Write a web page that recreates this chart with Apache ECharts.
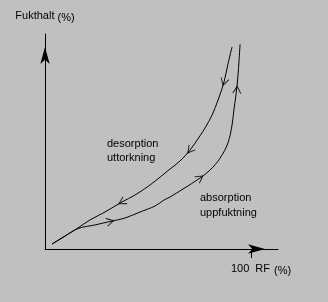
<!DOCTYPE html>
<html>
<head>
<meta charset="utf-8">
<script src="https://cdn.jsdelivr.net/npm/echarts@6/dist/echarts.min.js"></script>
<style>
html,body{margin:0;padding:0;background:#c0c0c0;}
#chart{width:328px;height:302px;}
</style>
</head>
<body>
<div id="chart"></div>
<script>
// Desorption (drying) curve: from wet end down to origin  [RF %, moisture]
var desorptionX = [90.8, 88.8, 86.9, 84.0, 81.1, 77.7, 75.2, 70.4, 65.5, 60.7, 51.0, 43.7, 37.4, 29.1, 21.8, 16.0, 9.7, 3.4];
var desorptionY = [94.0, 86.0, 77.7, 69.3, 62.3, 56.3, 52.6, 46.0, 40.9, 37.2, 29.8, 25.1, 21.9, 17.2, 13.5, 9.8, 6.0, 2.3];
// Absorption (wetting) curve: from origin up to wet end
var absorptionX = [3.4, 9.7, 16.0, 24.3, 31.6, 38.8, 46.1, 53.4, 57.8, 60.7, 67.0, 75.2, 80.1, 85.0, 88.8, 90.8, 91.7, 92.7, 93.7, 94.2, 94.7];
var absorptionY = [2.3, 6.0, 9.5, 11.2, 12.8, 14.4, 17.2, 20.0, 22.8, 24.2, 27.9, 33.0, 36.7, 42.3, 49.3, 57.7, 64.7, 71.6, 80.9, 87.9, 95.3];
// Direction arrows on the curves
var arrowX = [86.9, 70.4, 37.4, 31.6, 75.2, 93.2];
var arrowY = [77.7, 46.0, 21.9, 12.8, 33.0, 74.0];
var arrowAngle = [-15, -39, -60, 103, 125, 176];
// Axis tick labels
var xTickValues = [100];
var xTickLabels = ['100'];
var xAxisUnit = ['RF', '(%)'];
var yAxisTitle = 'Fukthalt';
var yAxisUnit = '(%)';
var curveTexts = [['desorption', 'uttorkning'], ['absorption', 'uppfuktning']];

function zip(a, b) { return a.map(function (v, i) { return [v, b[i]]; }); }

var font = 'Liberation Sans, Arial, sans-serif';
var chart = echarts.init(document.getElementById('chart'));
var axisLineCommon = {
  show: true,
  lineStyle: { color: '#000', width: 1 },
  symbol: ['none', 'arrow'],
  symbolSize: [7, 17],
  symbolOffset: [0, -13]
};
chart.setOption({
  backgroundColor: '#c0c0c0',
  animation: false,
  grid: { left: 45, top: 34, right: 50, bottom: 53 },
  xAxis: {
    type: 'value', min: 0, max: 113.1,
    axisLine: axisLineCommon,
    splitLine: { show: false },
    axisTick: { show: true, customValues: xTickValues, length: 9, lineStyle: { color: '#000', width: 1 } },
    axisLabel: {
      show: true, customValues: xTickValues, margin: 13,
      formatter: function (v) { return '{a|' + xTickLabels[xTickValues.indexOf(v)] + '} {b|' + xAxisUnit[0] + '} {c|' + xAxisUnit[1] + '}'; },
      padding: [0, 0, 0, 20],
      color: '#000', fontFamily: font, fontSize: 11,
      rich: {
        a: { fontFamily: font, fontSize: 11, color: '#000', padding: [0, 3, 0, 0] },
        b: { fontFamily: font, fontSize: 11, color: '#000', padding: [0, 1, 0, 0] },
        c: { fontFamily: font, fontSize: 11, color: '#000', padding: [3, 0, 0, 0] }
      }
    }
  },
  yAxis: {
    type: 'value', min: 0, max: 100,
    axisLine: axisLineCommon,
    splitLine: { show: false },
    axisTick: { show: false },
    axisLabel: { show: false },
    name: '{a|' + yAxisTitle + '} {b|' + yAxisUnit + '}',
    nameLocation: 'end',
    nameGap: 11,
    nameTextStyle: {
      fontFamily: font, fontSize: 11, color: '#000',
      rich: {
        a: { fontFamily: font, fontSize: 11, color: '#000' },
        b: { fontFamily: font, fontSize: 11, color: '#000', padding: [3, 0, 0, 0] }
      }
    }
  },
  series: [
    {
      type: 'line', data: zip(desorptionX, desorptionY), smooth: 0.35,
      showSymbol: false, lineStyle: { color: '#000', width: 1 }, silent: true
    },
    {
      type: 'line', data: zip(absorptionX, absorptionY), smooth: 0.35,
      showSymbol: false, lineStyle: { color: '#000', width: 1 }, silent: true
    },
    {
      type: 'scatter',
      data: arrowX.map(function (x, i) { return { value: [x, arrowY[i]], symbolRotate: arrowAngle[i] }; }),
      symbol: 'path://M0,0 L5,8 L10,0',
      symbolSize: [8, 7],
      itemStyle: { color: 'none', borderColor: '#000', borderWidth: 1 },
      silent: true
    }
  ],
  graphic: [
    { type: 'text', x: 107, y: 144, style: { text: curveTexts[0][0], font: '11px ' + font, fill: '#000', verticalAlign: 'middle' } },
    { type: 'text', x: 107, y: 158, style: { text: curveTexts[0][1], font: '11px ' + font, fill: '#000', verticalAlign: 'middle' } },
    { type: 'text', x: 200, y: 198, style: { text: curveTexts[1][0], font: '11px ' + font, fill: '#000', verticalAlign: 'middle' } },
    { type: 'text', x: 200, y: 213, style: { text: curveTexts[1][1], font: '11px ' + font, fill: '#000', verticalAlign: 'middle' } }
  ]
});
</script>
</body>
</html>
